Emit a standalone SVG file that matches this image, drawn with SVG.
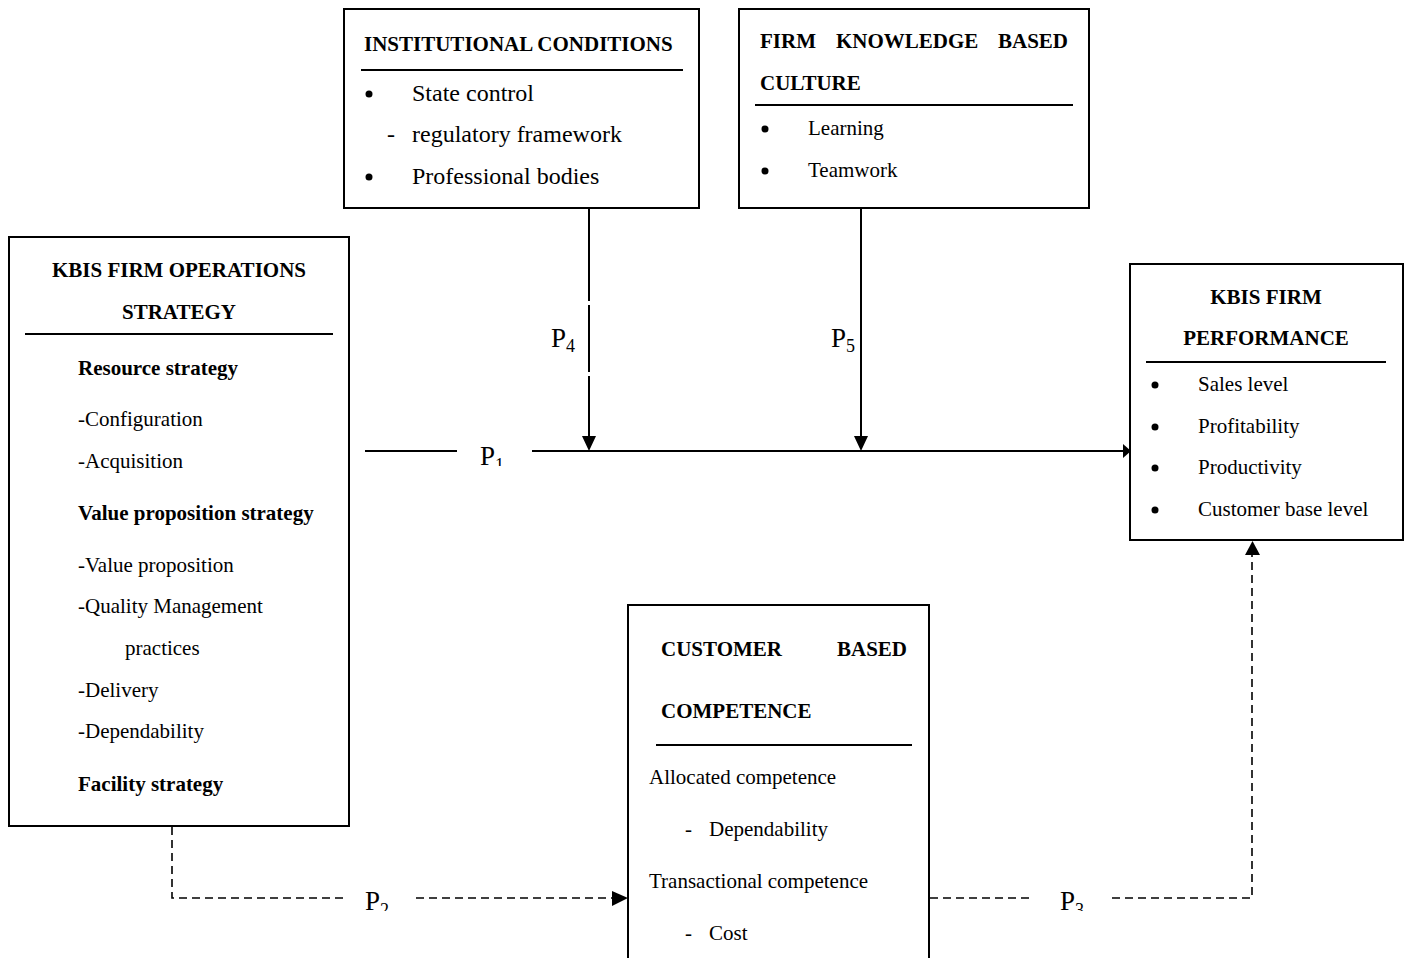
<svg xmlns="http://www.w3.org/2000/svg" width="1406" height="958" viewBox="0 0 1406 958">
<style>
.box{fill:#fff;stroke:#000;stroke-width:2}
.rule{stroke:#000;stroke-width:2}
.h{font-family:"Liberation Serif","Times New Roman",serif;font-weight:bold;font-size:21px;fill:#000}
.t{font-family:"Liberation Serif","Times New Roman",serif;font-size:21px;fill:#000}
.t24{font-family:"Liberation Serif","Times New Roman",serif;font-size:24px;fill:#000}
.p{font-family:"Liberation Serif","Times New Roman",serif;font-size:27px;fill:#000}
.sub{font-size:18px}
.solid{stroke:#000;stroke-width:2;fill:none}
.dash{stroke:#000;stroke-width:1.6;fill:none;stroke-dasharray:8 5}
.head{fill:#000}
</style>
<defs>
<clipPath id="c1"><rect x="0" y="0" width="1406" height="466"/></clipPath>
<clipPath id="c2"><rect x="0" y="0" width="1406" height="911"/></clipPath>
</defs>

<g id="institutional-conditions">
<rect class="box" x="344" y="9" width="355" height="199"/>
<text class="h" x="364" y="51">INSTITUTIONAL CONDITIONS</text>
<line class="rule" x1="361" y1="70" x2="683" y2="70"/>
<circle cx="369" cy="94" r="3.5"/>
<text class="t24" x="412" y="101">State control</text>
<text class="t24" x="387" y="142">-</text>
<text class="t24" x="412" y="142">regulatory framework</text>
<circle cx="369" cy="177" r="3.5"/>
<text class="t24" x="412" y="184">Professional bodies</text>
</g>

<g id="firm-knowledge-culture">
<rect class="box" x="739" y="9" width="350" height="199"/>
<text class="h" x="760" y="48">FIRM</text>
<text class="h" x="836" y="48">KNOWLEDGE</text>
<text class="h" x="1068" y="48" text-anchor="end">BASED</text>
<text class="h" x="760" y="90">CULTURE</text>
<line class="rule" x1="755" y1="105" x2="1073" y2="105"/>
<circle cx="765" cy="129" r="3.5"/>
<text class="t" x="808" y="135">Learning</text>
<circle cx="765" cy="171" r="3.5"/>
<text class="t" x="808" y="177">Teamwork</text>
</g>

<g id="operations-strategy">
<rect class="box" x="9" y="237" width="340" height="589"/>
<text class="h" x="179" y="277" text-anchor="middle">KBIS FIRM OPERATIONS</text>
<text class="h" x="179" y="319" text-anchor="middle">STRATEGY</text>
<line class="rule" x1="25" y1="334" x2="333" y2="334"/>
<text class="h" x="78" y="375">Resource strategy</text>
<text class="t" x="78" y="426">-Configuration</text>
<text class="t" x="78" y="468">-Acquisition</text>
<text class="h" x="78" y="520">Value proposition strategy</text>
<text class="t" x="78" y="572">-Value proposition</text>
<text class="t" x="78" y="613">-Quality Management</text>
<text class="t" x="125" y="655">practices</text>
<text class="t" x="78" y="697">-Delivery</text>
<text class="t" x="78" y="738">-Dependability</text>
<text class="h" x="78" y="791">Facility strategy</text>
</g>

<g id="firm-performance">
<rect class="box" x="1130" y="264" width="273" height="276"/>
<text class="h" x="1266" y="304" text-anchor="middle">KBIS FIRM</text>
<text class="h" x="1266" y="345" text-anchor="middle">PERFORMANCE</text>
<line class="rule" x1="1146" y1="362" x2="1386" y2="362"/>
<circle cx="1155" cy="385" r="3.5"/>
<text class="t" x="1198" y="391">Sales level</text>
<circle cx="1155" cy="427" r="3.5"/>
<text class="t" x="1198" y="433">Profitability</text>
<circle cx="1155" cy="468" r="3.5"/>
<text class="t" x="1198" y="474">Productivity</text>
<circle cx="1155" cy="510" r="3.5"/>
<text class="t" x="1198" y="516">Customer base level</text>
</g>

<g id="customer-competence">
<rect class="box" x="628" y="605" width="301" height="370"/>
<text class="h" x="661" y="656">CUSTOMER</text>
<text class="h" x="907" y="656" text-anchor="end">BASED</text>
<text class="h" x="661" y="718">COMPETENCE</text>
<line class="rule" x1="656" y1="745" x2="912" y2="745"/>
<text class="t" x="649" y="784">Allocated competence</text>
<text class="t" x="685" y="836">-</text>
<text class="t" x="709" y="836">Dependability</text>
<text class="t" x="649" y="888">Transactional competence</text>
<text class="t" x="685" y="940">-</text>
<text class="t" x="709" y="940">Cost</text>
</g>

<g id="connectors">
<!-- P1 -->
<line class="solid" x1="365" y1="451" x2="457" y2="451"/>
<line class="solid" x1="532" y1="451" x2="1124" y2="451"/>
<polygon class="head" points="1123,444 1131,451 1123,458"/>
<text class="p" x="480" y="465" clip-path="url(#c1)">P<tspan class="sub" dy="6">1</tspan></text>
<!-- P4 -->
<line class="solid" x1="589" y1="208" x2="589" y2="301"/>
<line class="solid" x1="589" y1="305" x2="589" y2="372"/>
<line class="solid" x1="589" y1="376" x2="589" y2="438"/>
<polygon class="head" points="582,436 596,436 589,451"/>
<text class="p" x="551" y="347">P<tspan class="sub" dy="5">4</tspan></text>
<!-- P5 -->
<line class="solid" x1="861" y1="208" x2="861" y2="438"/>
<polygon class="head" points="854,436 868,436 861,451"/>
<text class="p" x="831" y="347">P<tspan class="sub" dy="5">5</tspan></text>
<!-- P2 -->
<polyline class="dash" points="172,827 172,898 343,898"/>
<line class="dash" x1="416" y1="898" x2="614" y2="898"/>
<polygon class="head" points="612,891 628,898 612,906"/>
<text class="p" x="365" y="910" clip-path="url(#c2)">P<tspan class="sub" dy="6">2</tspan></text>
<!-- P3 -->
<line class="dash" x1="930" y1="898" x2="1033" y2="898"/>
<polyline class="dash" points="1112,898 1252,898 1252,555"/>
<polygon class="head" points="1245,555 1260,555 1252.5,541"/>
<text class="p" x="1060" y="910" clip-path="url(#c2)">P<tspan class="sub" dy="6">3</tspan></text>
</g>
</svg>
